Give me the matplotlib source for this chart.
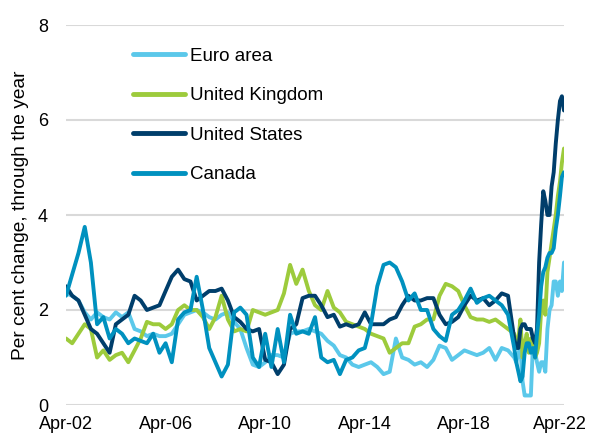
import matplotlib
matplotlib.use("Agg")
import matplotlib.pyplot as plt
import matplotlib.transforms as mtransforms
import pandas as pd

# Quarterly observations Apr-02 .. Jan-20, then monthly Apr-20 .. Apr-22
dates_q = pd.date_range("2002-04-01", periods=72, freq="3MS")
dates_m = pd.date_range("2020-04-01", periods=25, freq="MS")

euro_q = [2.35, 2.3, 2.2, 1.95, 1.8, 1.95, 1.85, 1.8, 1.95, 1.85,
          1.95, 1.6, 1.55, 1.45, 1.5, 1.45, 1.45, 1.5, 1.7, 1.9,
          1.95, 2.0, 1.95, 1.85, 1.8, 1.9, 1.95, 1.75, 1.6, 1.2,
          0.85, 0.8, 0.9, 1.05, 1.05, 1.0, 1.5, 1.55, 1.55, 1.6,
          1.55, 1.5, 1.35, 1.25, 1.05, 1.0, 0.85, 0.8, 0.85, 0.9,
          0.8, 0.65, 0.7, 1.4, 1.0, 0.95, 0.85, 0.9, 0.8, 0.95,
          1.25, 1.2, 0.95, 1.05, 1.15, 1.1, 1.05, 1.1, 1.2, 0.95,
          1.2, 1.15]
euro_m = [1.0, 0.9, 1.1, 1.2, 0.5, 0.2, 0.2, 0.2, 0.2, 1.3, 1.1, 0.9, 0.7,
          0.9, 0.9, 0.7, 1.6, 2.0, 2.1, 2.6, 2.6, 2.3, 2.6, 2.4, 3.0]

uk_q = [1.4, 1.3, 1.5, 1.7, 1.6, 1.0, 1.15, 0.95, 1.05, 1.1,
        0.9, 1.15, 1.4, 1.75, 1.7, 1.7, 1.6, 1.7, 2.0, 2.1,
        2.0, 2.0, 1.85, 1.6, 1.85, 2.3, 1.8, 1.55, 1.6, 1.55,
        2.0, 1.95, 1.9, 1.95, 2.0, 2.35, 2.95, 2.55, 2.85, 2.4,
        2.1, 2.0, 2.4, 2.05, 1.95, 1.75, 1.7, 1.65, 1.6, 1.5,
        1.45, 1.4, 1.1, 1.2, 1.3, 1.3, 1.65, 1.7, 1.8, 1.8,
        2.3, 2.55, 2.5, 2.4, 2.1, 1.85, 1.8, 1.8, 1.75, 1.8,
        1.7, 1.6]
uk_m = [1.5, 1.3, 1.4, 1.8, 1.0, 1.3, 1.5, 1.1, 1.4, 1.4, 1.0, 1.1, 1.3,
        2.0, 2.2, 1.9, 2.8, 3.1, 3.4, 3.7, 4.0, 4.4, 4.7, 5.1, 5.4]

us_q = [2.5, 2.3, 2.2, 1.9, 1.6, 1.5, 1.3, 1.1, 1.7, 1.8,
        1.9, 2.3, 2.2, 2.0, 2.05, 2.1, 2.4, 2.7, 2.85, 2.65,
        2.6, 2.2, 2.3, 2.4, 2.4, 2.45, 2.2, 1.85, 1.75, 1.6,
        1.55, 1.6, 0.95, 0.9, 0.65, 0.85, 1.6, 1.7, 2.25, 2.3,
        2.3, 2.1, 1.85, 1.9, 1.65, 1.7, 1.65, 1.7, 1.95, 1.7,
        1.7, 1.7, 1.8, 1.85, 2.1, 2.3, 2.2, 2.2, 2.25, 2.25,
        1.9, 1.7, 1.75, 1.85, 2.1, 2.3, 2.2, 2.25, 2.1, 2.2,
        2.35, 2.3]
us_m = [1.4, 1.2, 1.2, 1.6, 1.7, 1.7, 1.6, 1.6, 1.6, 1.4, 1.3, 1.6, 3.0,
        3.8, 4.5, 4.3, 4.0, 4.0, 4.6, 4.9, 5.5, 6.0, 6.4, 6.5, 6.2]

ca_q = [2.3, 2.75, 3.2, 3.75, 3.0, 1.7, 1.85, 1.4, 1.6, 1.5,
        1.3, 1.4, 1.35, 1.3, 1.5, 1.1, 1.3, 0.9, 1.8, 1.95,
        2.0, 2.7, 2.0, 1.2, 0.9, 0.6, 0.85, 1.95, 2.05, 1.9,
        1.0, 0.8, 1.5, 0.8, 1.6, 0.9, 1.9, 1.5, 1.55, 1.5,
        1.85, 1.0, 0.9, 0.95, 0.65, 0.95, 1.0, 1.15, 1.2, 1.7,
        2.5, 2.95, 3.0, 2.9, 2.6, 2.2, 2.35, 2.0, 2.0, 1.6,
        1.45, 1.35, 1.9, 2.0, 2.2, 2.45, 2.15, 2.25, 2.3, 2.2,
        2.1, 1.9]
ca_m = [1.2, 0.9, 0.7, 0.5, 0.6, 1.1, 1.3, 1.3, 1.1, 1.2, 1.0, 1.5, 1.9,
        2.5, 2.8, 2.9, 3.1, 3.2, 3.2, 3.3, 3.7, 4.0, 4.4, 4.8, 4.9]

series_names = ["Euro area", "United Kingdom", "United States", "Canada"]
series_colors = ["#5BC8EA", "#9DCB3C", "#003E6B", "#0091BF"]

tick_years = ["2002", "2006", "2010", "2014", "2018", "2022"]
tick_labels = ["Apr-02", "Apr-06", "Apr-10", "Apr-14", "Apr-18", "Apr-22"]
y_ticks = [0, 2, 4, 6, 8]

plt.rcParams["font.family"] = ["Liberation Sans", "DejaVu Sans"]

fig = plt.figure(figsize=(5.9, 4.34), dpi=100)
ax = fig.add_axes([66 / 590, 1 - 405 / 434, (564 - 66) / 590, 380 / 434])

dates = dates_q.append(dates_m)
all_series = [euro_q + euro_m, uk_q + uk_m, us_q + us_m, ca_q + ca_m]
for name, col, vals in zip(series_names, series_colors, all_series):
    ax.plot(dates, vals, color=col, lw=2.8, label=name,
            solid_joinstyle="round", solid_capstyle="round")

ax.set_ylim(0, 8)
ax.set_yticks(y_ticks)
ax.set_xlim(pd.Timestamp("2002-04-01"), pd.Timestamp("2022-04-01"))
ax.set_xticks([pd.Timestamp(f"{y}-04-01") for y in tick_years])
ax.set_xticklabels(tick_labels)
ax.grid(axis="y", color="#d9d9d9", lw=1.5)
ax.set_axisbelow(True)
for s in ax.spines.values():
    s.set_visible(False)
ax.tick_params(axis="both", length=0, labelsize=13, colors="black")
ax.tick_params(axis="y", pad=13)
ax.tick_params(axis="x", pad=8)
ax.set_ylabel("Per cent change, through the year", fontsize=13.8, labelpad=6)

# nudge the last x label so it stays inside the figure
last = ax.get_xticklabels()[-1]
last.set_transform(last.get_transform() +
                   mtransforms.ScaledTranslation(-4 / 100, 0, fig.dpi_scale_trans))

leg = ax.legend(loc="upper left", bbox_to_anchor=(0.135, 0.94), frameon=False,
                fontsize=13.5, handlelength=2.77, handletextpad=0.27,
                labelspacing=1.19, borderpad=0, borderaxespad=0)
for h in leg.get_lines():
    h.set_linewidth(3.5)

fig.savefig("out.png", dpi=100)
